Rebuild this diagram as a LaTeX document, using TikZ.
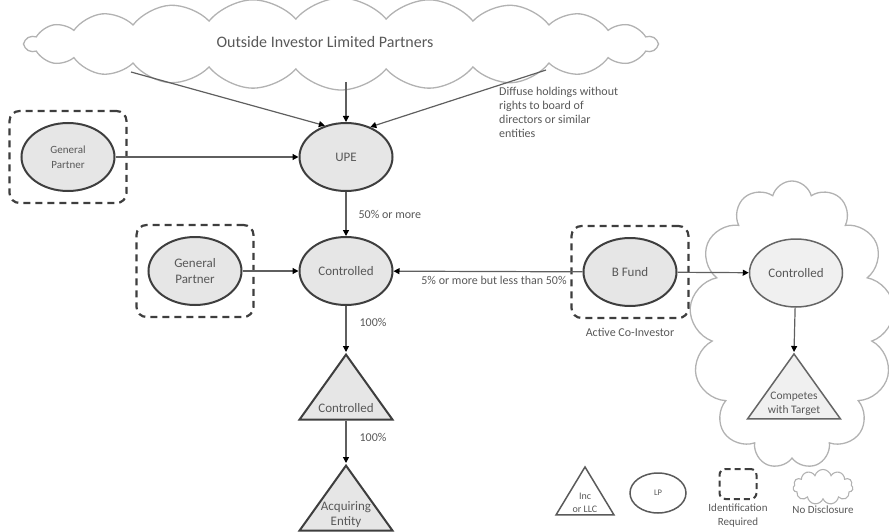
\documentclass[tikz,border=0pt]{standalone}
\usepackage{fontspec}
\setmainfont{Carlito}
\usepackage{tikz}
\usetikzlibrary{
  shapes.geometric, shapes.symbols,
  arrows.meta,
  positioning, fit
}
\definecolor{inkgray}{RGB}{62,62,62}
\definecolor{txtgray}{RGB}{88,88,88}
\definecolor{fillgray}{RGB}{230,230,230}
\definecolor{palefill}{RGB}{240,240,240}
\definecolor{cloudline}{RGB}{178,178,178}
\definecolor{linegray}{RGB}{95,95,95}
\definecolor{keygray}{RGB}{90,90,90}
\tikzset{
  lbltext/.style={text=txtgray,font=\fontsize{12}{14}\selectfont},
  lpnode/.style={ellipse,draw=inkgray,line width=2pt,fill=fillgray,text=txtgray,align=center,
                 font=\fontsize{13}{16}\selectfont,minimum width=93pt,minimum height=68pt,inner sep=0pt},
  outnode/.style={lpnode,draw=inkgray!80,line width=1.5pt,fill=palefill},
  incnode/.style={isosceles triangle,isosceles triangle stretches,shape border rotate=90,
                  draw=inkgray,line width=2pt,fill=fillgray,minimum width=93pt,minimum height=65pt,inner sep=0pt},
  inctext/.style={text=txtgray,align=center,font=\fontsize{13}{15}\selectfont,inner sep=1pt},
  idbox/.style={draw=inkgray,line width=2.2pt,dash pattern=on 7pt off 5pt,rounded corners=10pt,inner sep=11pt},
  bigcloud/.style={cloud,cloud puffs=22,cloud puff arc=100,cloud ignores aspect,draw=cloudline,line width=1.3pt,
                   minimum width=632pt,minimum height=92pt},
  nocloud/.style={cloud,cloud puffs=13,cloud ignores aspect,draw=cloudline,line width=1.3pt},
  pct/.style={lbltext,inner sep=1pt},
  keyshape/.style={draw=keygray,line width=1.5pt},
  keytext/.style={text=txtgray,align=center,font=\fontsize{11}{14}\selectfont,inner sep=0pt},
  arr/.style={-{Triangle[length=6pt,width=6pt,color=black]},line width=1.2pt,draw=linegray}
}
\begin{document}
\begin{tikzpicture}[x=1pt,y=-1pt]
  \useasboundingbox (0,0) rectangle (889,532);

  \node[bigcloud] (lps) at (341,44) {};
  \node[lbltext,font=\fontsize{16}{18}\selectfont] (lpstxt) at (325,42) {Outside Investor Limited Partners};
  \node[nocloud,minimum width=205pt,minimum height=288pt] (ndcloud) at (792,325) {};

  \node[lpnode] (upe) at (346,157) {UPE};
  \node[lpnode,font=\fontsize{11}{15}\selectfont] (gpA) at (68,157) {General\\Partner};
  \node[lpnode] (ctrlA) at (346,271) {Controlled};
  \node[lpnode] (gpB) at (195,271) {General\\Partner};
  \node[lpnode] (bfund) at (630,272) {B Fund};
  \node[outnode] (ctrlR) at (796,273) {Controlled};

  \node[idbox,fit=(gpA)] (gpAbox) {};
  \node[idbox,fit=(gpB)] (gpBbox) {};
  \node[idbox,fit=(bfund)] (bfbox) {};
  \node[pct,below=8pt of bfbox] (coinv) {Active Co-Investor};

  \node[incnode,anchor=apex] (ctrlC) at (346,352) {};
  \node[inctext,above=7pt of ctrlC.lower side] (ctrlCtxt) {Controlled};
  \node[incnode,anchor=apex] (acq) at (346,463) {};
  \node[inctext,above=3pt of acq.lower side] (acqtxt) {Acquiring\\Entity};
  \node[incnode,draw=inkgray!80,line width=1.5pt,fill=palefill,anchor=apex] (compete) at (794,352) {};
  \node[inctext,font=\fontsize{11.5}{14}\selectfont,above=3pt of compete.lower side] (competetxt) {Competes\\with Target};

  \node[pct,align=left,anchor=north west] (diffuse) at (498,86)
      {Diffuse holdings without\\rights to board of\\directors or similar\\entities};

  \coordinate (lpsL) at (131,72);
  \coordinate (lpsM) at (346,82);
  \coordinate (lpsR) at (546,70);
  \draw[arr] (lpsL) -- (upe.124);
  \draw[arr] (lpsM) -- (upe.north);
  \draw[arr] (lpsR) -- (upe.51);
  \draw[arr] (gpA) -- (upe);
  \draw[arr] (upe) -- node[pct,anchor=west,xshift=11pt] (pctA) {50\% or more} (ctrlA);
  \draw[arr] (gpB) -- (ctrlA);
  \draw[arr] (bfund) -- node[pct,below=3pt,xshift=6pt] (pctB) {5\% or more but less than 50\%} (ctrlA);
  \draw[arr] (bfund) -- (ctrlR);
  \draw[arr] (ctrlR) -- (compete.apex);
  \draw[arr] (ctrlA) -- node[pct,anchor=west,pos=0.35,xshift=12pt] (pctC) {100\%} (ctrlC.apex);
  \draw[arr] (ctrlC.lower side) -- node[pct,anchor=west,pos=0.4,xshift=12pt] (pctD) {100\%} (acq.apex);

  \node[isosceles triangle,isosceles triangle stretches,shape border rotate=90,keyshape,
        minimum width=58pt,minimum height=48pt,inner sep=0pt,anchor=apex] (keyinc) at (585,465) {};
  \node[keytext,font=\fontsize{10}{13}\selectfont,above=3pt of keyinc.lower side] (keyinctxt) {Inc\\or LLC};
  \node[ellipse,keyshape,minimum width=56pt,minimum height=40pt,inner sep=0pt,
        font=\fontsize{8.5}{10}\selectfont,text=txtgray] (keylp) at (658,493) {LP};
  \node[draw=inkgray,line width=2pt,dash pattern=on 6pt off 4pt,rounded corners=6pt,
        minimum width=37pt,minimum height=30pt] (keyid) at (738,484) {};
  \node[keytext,below=4pt of keyid] (keyidtxt) {Identification\\Required};
  \node[cloud,cloud puffs=11,cloud ignores aspect,draw=cloudline,line width=1.1pt,
        minimum width=60pt,minimum height=35pt] (keycloud) at (823,487) {};
  \node[keytext,below=6pt of keycloud] (keycloudtxt) {No Disclosure};
\end{tikzpicture}
\end{document}
